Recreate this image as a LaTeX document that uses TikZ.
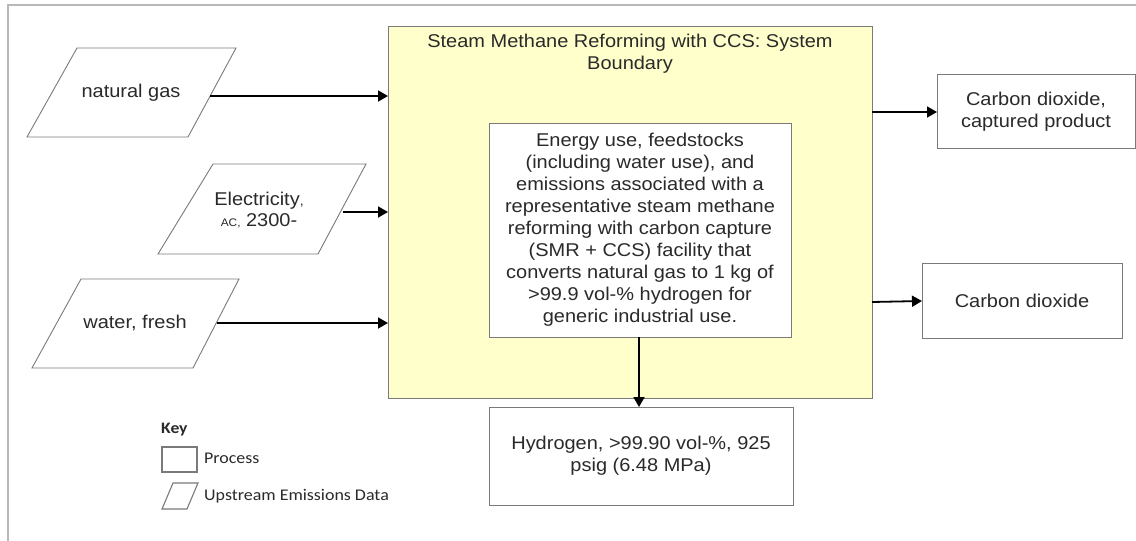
\documentclass[tikz,border=0pt]{standalone}
\usepackage{fontspec}
\setmainfont{Liberation Sans}[FakeStretch=1.08]
\newfontfamily\keyfont{Carlito}[FakeStretch=1.1]
\usetikzlibrary{arrows.meta}
\definecolor{boundfill}{HTML}{FFFFCC}
\definecolor{edgegray}{HTML}{7A7A7A}
\definecolor{textgray}{HTML}{2A2A2A}
\definecolor{framegray}{HTML}{B8B8B8}
\tikzset{
  every node/.style={text=textgray, font=\fontsize{18.5}{22}\selectfont, align=center, inner sep=0pt},
  shapeline/.style={draw=edgegray, line width=0.9pt, line join=miter},
  procbox/.style={shapeline, fill=white},
  flow/.style={draw=black, line width=1.8pt, -{Triangle[length=10pt,width=11pt]}},
  keytext/.style={font=\keyfont\fontsize{16.3}{19}\selectfont, anchor=west},
}
\begin{document}
\begin{tikzpicture}[x=1pt, y=-1pt]
\useasboundingbox (0,0) rectangle (1136,541);
\fill[white] (0,0) rectangle (1136,541);

% outer frame (top and left edges)
\draw[framegray, line width=1.2pt] (1136,5) -- (8,5) -- (8,541);

% system boundary
\draw[shapeline, fill=boundfill] (388,26) rectangle (872,398);
\node (title) at (630,54) {Steam Methane Reforming with CCS: System\\Boundary};
\coordinate (bnd-ng) at (388,96);
\coordinate (bnd-el) at (388,212);
\coordinate (bnd-wa) at (388,323);
\coordinate (bnd-co2c) at (872,112);
\coordinate (bnd-co2) at (872,302);

% central process
\draw[procbox] (489,123) rectangle (791,337);
\node (proc) at (640,230) {Energy use, feedstocks\\(including water use), and\\emissions associated with a\\representative steam methane\\reforming with carbon capture\\(SMR + CCS) facility that\\converts natural gas to 1 kg of\\>99.9 vol-\% hydrogen for\\generic industrial use.};
\coordinate (proc-out) at (639,337);

% hydrogen product
\draw[procbox] (489,407) rectangle (793,505);
\node (h2) at (641,456) {Hydrogen, >99.90 vol-\%, 925\\psig (6.48 MPa)};
\coordinate (h2-in) at (639,407);

% upstream inputs
\draw[procbox] (77,48) -- (236,48) -- (188,137) -- (27,137) -- cycle;
\node (ng) at (131,93) {natural gas};
\coordinate (ng-out) at (210,96);

\draw[procbox] (213,164) -- (366,164) -- (318,254) -- (158,254) -- cycle;
\node (el) at (259,210) {Electricity{\fontsize{13}{15}\selectfont,}\\[-1pt]{\fontsize{11}{13}\selectfont AC,} 2300-};
\coordinate (el-out) at (343,212);

\draw[procbox] (81,279) -- (239,279) -- (193,368) -- (32,368) -- cycle;
\node (wa) at (135,323) {water, fresh};
\coordinate (wa-out) at (217,323);

% outputs
\draw[procbox] (937,74) rectangle (1135,148);
\node (co2c) at (1036,112) {Carbon dioxide,\\captured product};
\draw[procbox] (922,263) rectangle (1122,338);
\node (co2) at (1022,301) {Carbon dioxide};

% flows
\draw[flow] (ng-out) -- (bnd-ng);
\draw[flow] (el-out) -- (bnd-el);
\draw[flow] (wa-out) -- (bnd-wa);
\draw[flow] (bnd-co2c) -- (co2c.west -| 937,0);
\draw[flow] (bnd-co2) -- (co2.west -| 922,0);
\draw[flow] (proc-out) -- (h2-in);

% key
\node[font=\keyfont\bfseries\fontsize{16}{19}\selectfont, anchor=west] (keyhead) at (161,430) {Key};
\draw[shapeline, line width=1.1pt] (162,447) rectangle (197,472);
\node[keytext] (keyproc) at (204,458) {Process};
\draw[shapeline, line width=1.1pt] (173,483) -- (198,483) -- (187,509) -- (162,509) -- cycle;
\node[keytext] (keyup) at (204,496) {Upstream Emissions Data};
\end{tikzpicture}
\end{document}
